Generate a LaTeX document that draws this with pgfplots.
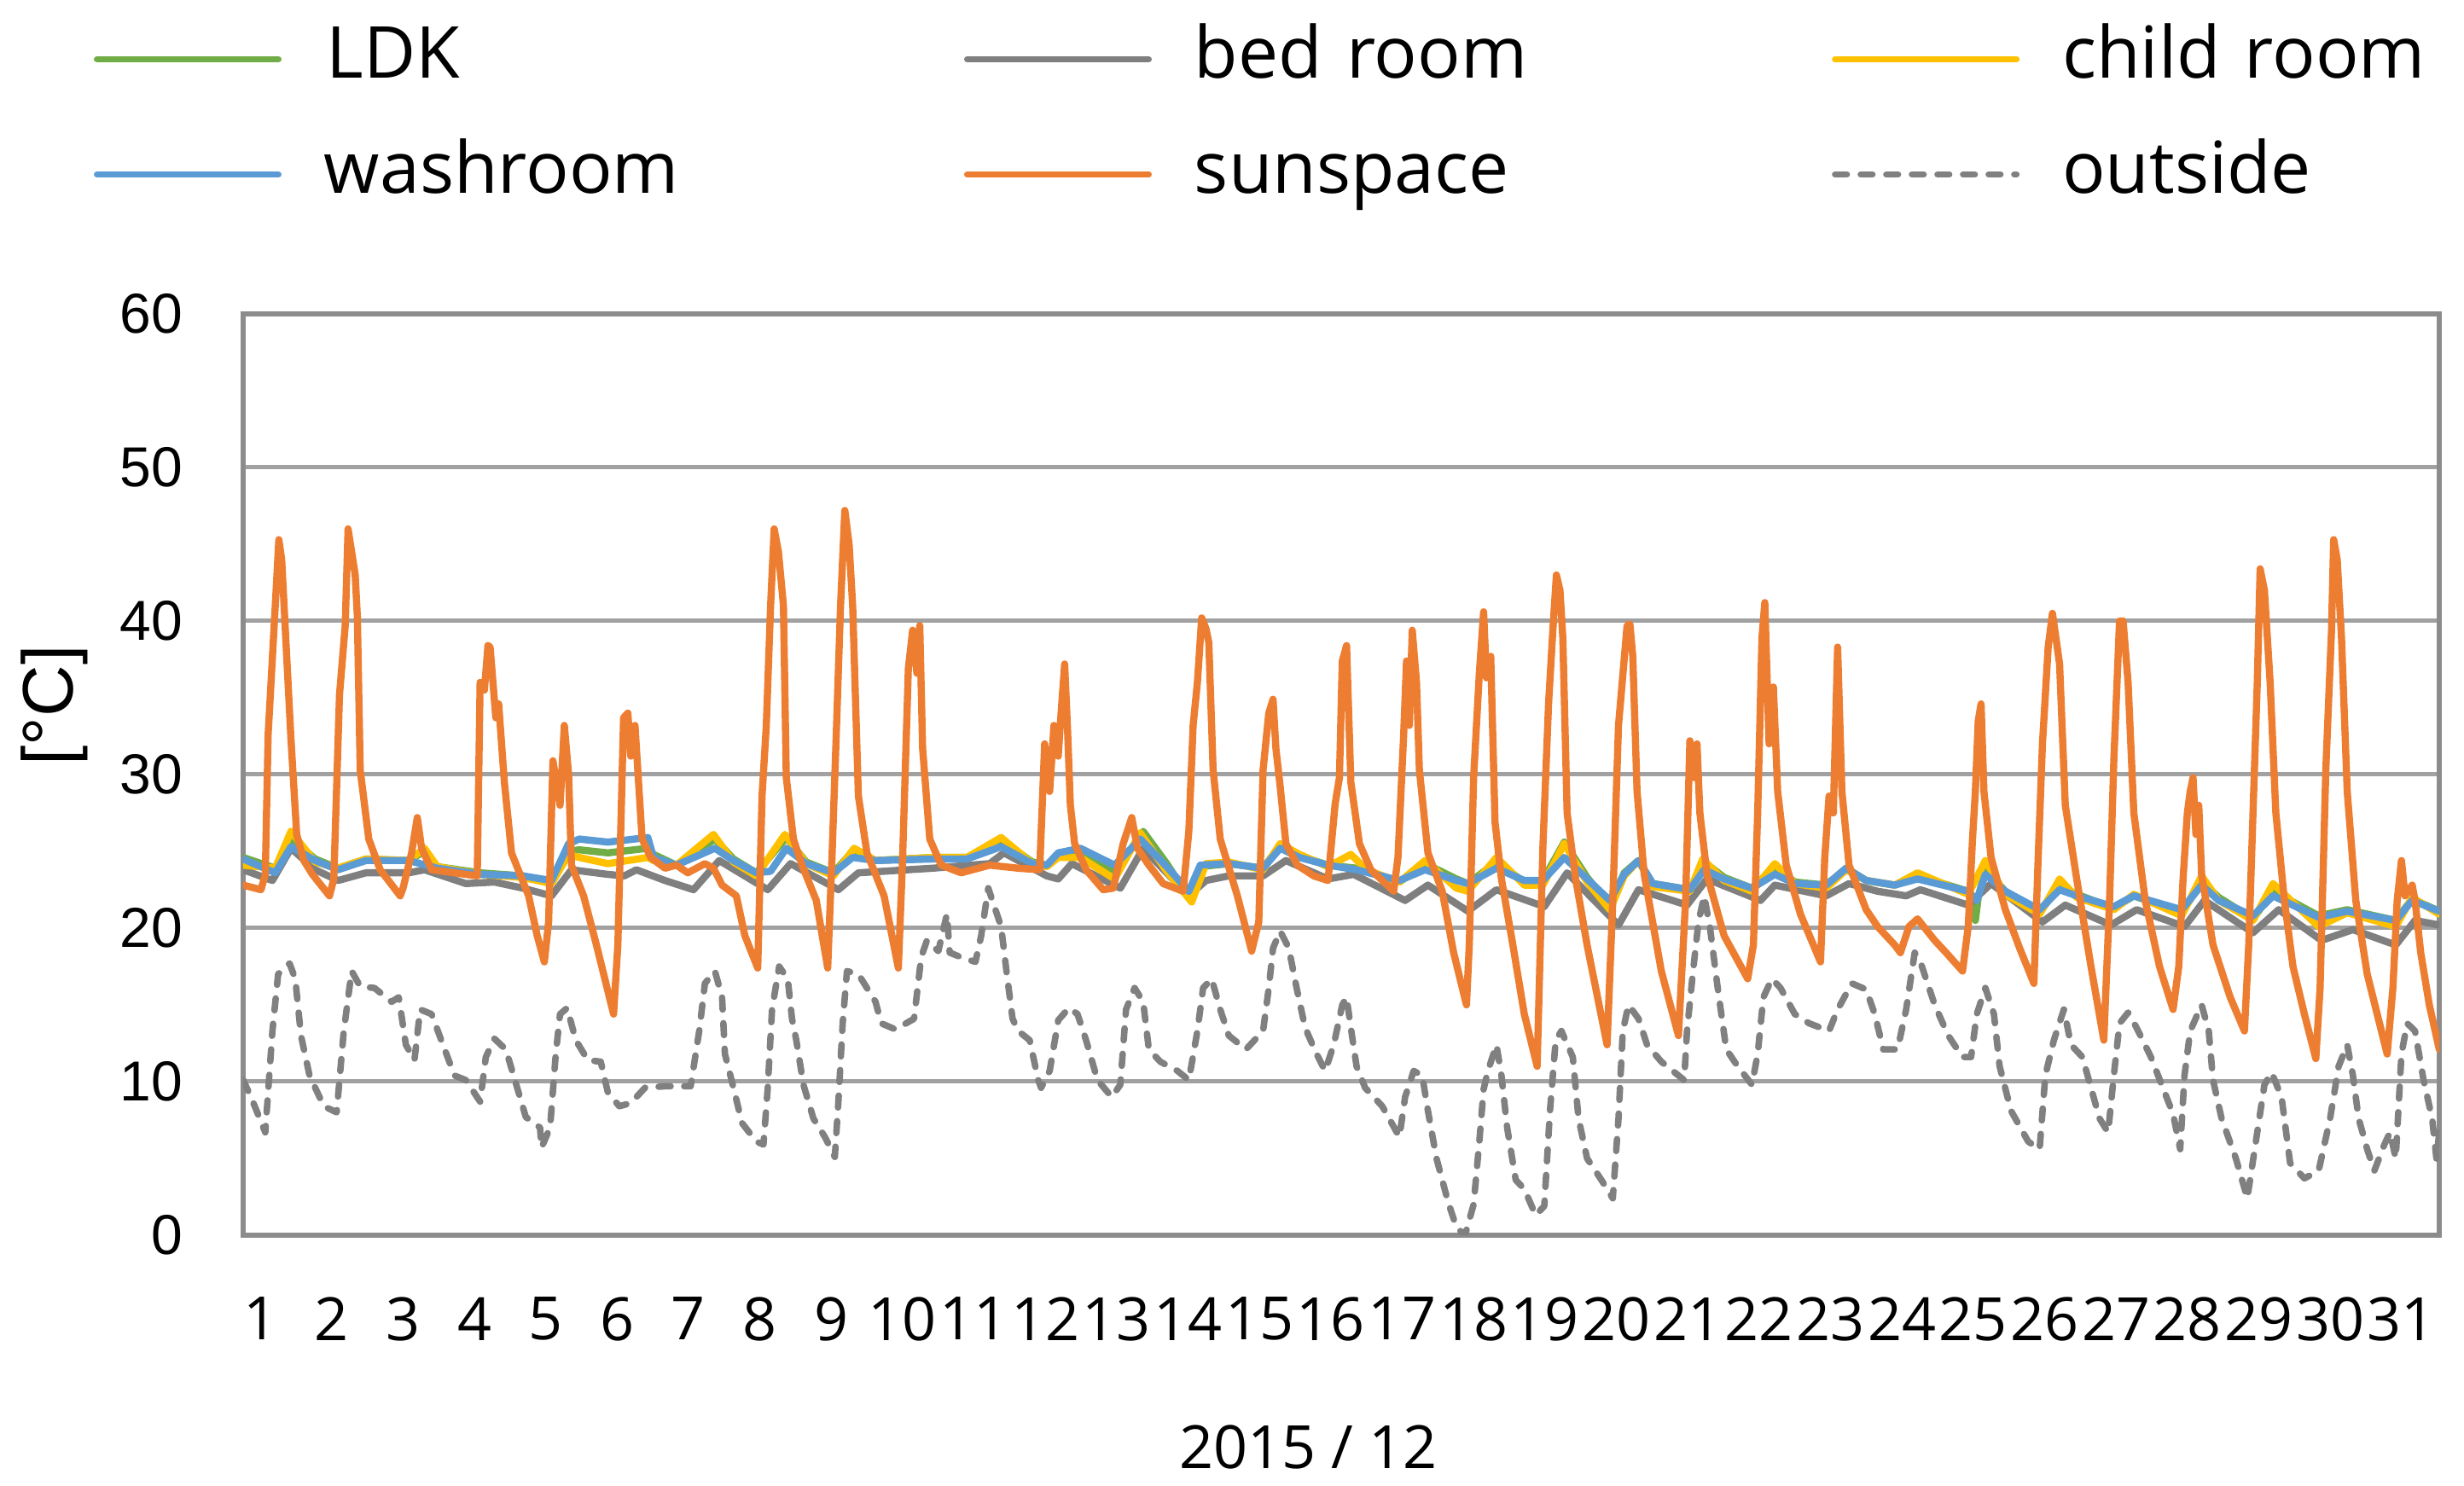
\documentclass[border=0pt]{standalone}
\usepackage{fontspec}
\setmainfont{Open Sans}
\newfontfamily\arialfont{Liberation Sans}
\usepackage{pgfplots}
\pgfplotsset{compat=1.18}
\definecolor{cLDK}{HTML}{70AD47}
\definecolor{cBed}{HTML}{7F7F7F}
\definecolor{cChild}{HTML}{FFC000}
\definecolor{cWash}{HTML}{5B9BD5}
\definecolor{cSun}{HTML}{ED7D31}
\definecolor{cOut}{HTML}{808080}
\begin{document}
\begin{tikzpicture}
\begin{axis}[
  scale only axis, width=643.5pt, height=270pt,
  xmin=0.76, xmax=31.53, ymin=0, ymax=60,
  xtick={1,...,31}, ytick={0,10,...,60},
  major tick length=0pt,
  ymajorgrids, grid style={color=black!37, line width=1.25pt},
  axis line style={color=black!45, line width=1.3pt},
  /pgf/number format/assume math mode=true,
  xticklabel style={font=\fontsize{17.5}{17.5}\selectfont, inner sep=0pt, anchor=north, yshift=-18pt},
  yticklabel style={font=\arialfont\fontsize{16.5}{16.5}\selectfont, inner sep=0pt, anchor=east, xshift=-17.5pt},
  xlabel={2015 / 12},
  xlabel style={font=\fontsize{17.5}{17.5}\selectfont, at={(axis description cs:0.485,0)}, anchor=center, yshift=-62pt},
  ylabel={[°C]},
  ylabel style={font=\arialfont\fontsize{21}{21}\selectfont, at={(axis description cs:-0.0859,0.575)}, anchor=center},
  legend columns=3,
  legend cell align=left,
  legend image code/.code={\draw[#1, line width=1.8pt] (0.9pt,0pt) -- (54.1pt,0pt);},
  legend style={
    at={(axis description cs:0,1)}, anchor=north west, xshift=-43.75pt, yshift=85pt,
    draw=none, fill=none, inner sep=0pt, outer sep=0pt,
    column sep=0pt, row sep=12.95pt,
    font=\fontsize{21}{21}\selectfont,
    nodes={inner sep=0pt, text height=16pt, text depth=4.8pt, text width=186.8pt, align=left},
    /tikz/every odd column/.append style={column sep=12.5pt},
  },
  every axis plot/.append style={line width=2.1pt, line join=round, line cap=round},
]
% LDK
\addplot[cLDK] coordinates {
(0.76,24.6)(1.21,23.9)(1.43,25.8)(1.77,24.5)(2.09,23.9)(2.48,24.5)(3.08,24.4)(3.30,25.0)(3.48,24.0)(4.08,23.6)(4.68,23.4)(5.08,22.9)(5.32,25.0)(5.47,25.1)(5.87,24.9)(6.43,25.2)(6.51,24.8)(6.83,24.1)(7.37,25.8)(7.63,24.5)(7.95,23.6)(8.37,25.9)(8.65,24.3)(9.03,23.6)(9.30,25.0)(9.62,24.4)(10.42,24.6)(10.90,24.6)(11.38,25.7)(11.82,24.3)(12.02,24.1)(12.18,24.8)(12.49,25.0)(12.97,23.6)(13.37,26.3)(13.70,24.2)(14.01,22.0)(14.17,24.0)(14.57,24.2)(15.05,23.9)(15.29,25.4)(15.56,24.7)(15.96,24.1)(16.36,23.9)(16.96,23.0)(17.32,24.2)(17.76,23.2)(17.92,22.9)(18.32,24.3)(18.71,23.0)(18.97,23.1)(19.27,25.6)(19.59,23.3)(19.91,21.5)(20.11,23.6)(20.31,24.4)(20.51,22.9)(21.03,22.5)(21.23,24.3)(21.51,23.3)(21.90,22.6)(22.22,24.0)(22.50,23.0)(22.94,22.8)(23.22,23.9)(23.50,23.1)(23.90,22.8)(24.22,23.4)(24.93,22.4)(25.03,20.5)(25.07,22.0)(25.17,23.8)(25.45,22.4)(25.93,21.0)(26.21,22.8)(26.45,22.2)(26.97,21.3)(27.25,22.1)(27.92,21.0)(28.20,23.0)(28.44,22.0)(28.92,20.6)(29.20,22.4)(29.84,20.8)(30.24,21.2)(30.92,20.5)(31.15,21.9)(31.53,21.1)
};
\addlegendentry[xshift=3.7pt]{LDK}
% bed room
\addplot[cBed] coordinates {
(0.76,23.8)(1.17,23.1)(1.43,25.2)(1.77,23.8)(2.09,23.1)(2.48,23.6)(3.08,23.6)(3.30,23.8)(3.88,22.9)(4.28,23.0)(4.68,22.6)(5.08,22.1)(5.36,23.8)(5.87,23.5)(6.10,23.4)(6.27,23.8)(6.67,23.1)(7.07,22.5)(7.43,24.4)(8.11,22.5)(8.43,24.2)(9.10,22.5)(9.38,23.6)(10.42,23.9)(11.22,24.2)(11.42,24.9)(12.02,23.4)(12.18,23.2)(12.37,24.2)(13.05,22.6)(13.37,25.2)(14.01,22.1)(14.25,23.1)(14.57,23.4)(15.05,23.4)(15.37,24.4)(15.96,23.2)(16.32,23.5)(17.04,21.8)(17.36,22.8)(17.92,21.1)(18.32,22.5)(18.99,21.4)(19.31,23.6)(20.03,20.2)(20.31,22.5)(20.99,21.5)(21.27,23.2)(22.02,21.8)(22.22,22.8)(22.94,22.1)(23.26,22.9)(23.66,22.4)(24.06,22.1)(24.26,22.5)(24.93,21.5)(25.25,22.9)(25.97,20.4)(26.29,21.5)(26.93,20.2)(27.29,21.2)(27.96,20.1)(28.24,21.8)(28.92,19.7)(29.28,21.2)(29.88,19.2)(30.32,19.9)(30.92,18.9)(31.19,20.5)(31.53,20.2)
};
\addlegendentry[xshift=-1.2pt]{bed room}
% child room
\addplot[cChild] coordinates {
(0.76,24.1)(1.21,23.9)(1.43,26.3)(1.77,24.3)(2.09,23.9)(2.48,24.5)(3.08,24.4)(3.30,25.2)(3.48,24.0)(4.08,23.5)(4.68,23.3)(5.08,22.9)(5.32,24.8)(5.47,24.6)(5.87,24.2)(6.43,24.6)(6.51,24.4)(6.83,24.1)(7.35,26.1)(7.63,24.3)(7.95,23.4)(8.35,26.1)(8.65,24.2)(9.03,23.4)(9.32,25.2)(9.62,24.4)(10.42,24.6)(10.90,24.6)(11.38,25.9)(11.82,24.2)(12.02,24.0)(12.18,24.6)(12.49,24.6)(12.97,23.2)(13.33,26.2)(13.70,23.7)(14.05,21.7)(14.25,24.2)(14.57,24.3)(15.05,23.8)(15.29,25.5)(15.56,24.8)(15.96,24.0)(16.28,24.8)(16.50,23.8)(16.96,23.0)(17.32,24.4)(17.76,22.6)(17.92,22.4)(18.32,24.6)(18.71,22.8)(18.97,22.8)(19.27,25.5)(19.59,23.0)(19.91,21.2)(20.11,23.4)(20.31,24.4)(20.51,22.7)(21.03,22.4)(21.21,24.5)(21.51,23.1)(21.90,22.4)(22.22,24.2)(22.50,22.9)(22.94,22.6)(23.22,23.8)(23.50,23.1)(23.90,22.8)(24.22,23.6)(24.93,22.2)(25.17,24.4)(25.45,22.2)(25.93,20.9)(26.21,23.2)(26.45,22.0)(26.97,21.2)(27.25,22.2)(27.92,20.8)(28.20,23.4)(28.44,21.8)(28.92,20.5)(29.20,22.9)(29.84,20.1)(30.24,21.0)(30.92,20.1)(31.15,22.0)(31.53,20.9)
};
\addlegendentry{child room}
% washroom
\addplot[cWash] coordinates {
(0.76,24.5)(1.21,23.6)(1.43,25.3)(1.77,24.4)(2.09,23.8)(2.48,24.4)(3.08,24.4)(3.48,23.9)(4.08,23.5)(4.68,23.4)(5.08,23.1)(5.32,25.5)(5.47,25.8)(5.87,25.6)(6.43,25.9)(6.51,24.6)(6.83,24.1)(7.37,25.2)(7.63,24.4)(7.95,23.6)(8.15,23.7)(8.37,25.2)(8.65,24.2)(9.03,23.6)(9.30,24.6)(9.62,24.4)(10.42,24.5)(10.90,24.5)(11.38,25.3)(11.82,24.2)(12.02,24.1)(12.18,24.9)(12.49,25.2)(12.97,24.1)(13.33,25.8)(13.70,24.0)(14.01,22.4)(14.17,24.1)(14.57,24.2)(15.05,23.9)(15.29,25.2)(15.56,24.6)(15.96,24.1)(16.36,23.8)(16.96,23.1)(17.32,23.8)(17.76,23.1)(17.92,22.9)(18.32,23.9)(18.71,23.1)(18.97,23.1)(19.27,24.6)(19.59,23.2)(19.91,21.8)(20.11,23.5)(20.31,24.4)(20.51,22.9)(21.03,22.5)(21.23,23.8)(21.51,23.2)(21.90,22.6)(22.22,23.5)(22.50,22.9)(22.94,22.8)(23.22,23.9)(23.50,23.1)(23.90,22.8)(24.22,23.2)(24.93,22.4)(25.05,21.8)(25.17,23.5)(25.45,22.4)(25.93,21.2)(26.21,22.5)(26.45,22.1)(26.97,21.4)(27.25,22.1)(27.92,21.2)(28.20,22.8)(28.44,21.8)(28.92,20.8)(29.20,22.1)(29.84,20.7)(30.24,21.1)(30.92,20.5)(31.15,21.8)(31.53,21.1)
};
\addlegendentry[xshift=3pt]{washroom}
% sunspace
\addplot[cSun] coordinates {
(0.76,22.8)(1.01,22.5)(1.07,23.5)(1.11,32.6)(1.21,41.0)(1.26,45.3)(1.30,44.0)(1.43,32.3)(1.51,26.1)(1.61,24.4)(1.73,23.5)(1.97,22.1)(2.03,23.2)(2.11,35.2)(2.19,39.7)(2.23,46.0)(2.33,43.0)(2.36,40.3)(2.40,30.3)(2.52,25.8)(2.68,23.8)(2.96,22.1)(3.00,22.6)(3.12,24.9)(3.20,27.2)(3.26,25.2)(3.40,23.8)(4.04,23.4)(4.08,36.0)(4.14,35.5)(4.19,38.4)(4.22,38.3)(4.30,33.7)(4.34,34.6)(4.42,29.5)(4.52,24.9)(4.76,22.1)(4.88,19.5)(4.98,17.8)(5.04,20.4)(5.10,30.9)(5.16,29.2)(5.20,28.0)(5.26,33.2)(5.32,30.0)(5.36,24.1)(5.53,22.1)(5.71,18.9)(5.95,14.4)(6.01,18.9)(6.09,33.7)(6.15,34.0)(6.19,31.2)(6.25,33.2)(6.35,25.8)(6.47,24.6)(6.67,23.9)(6.83,24.1)(6.99,23.6)(7.23,24.2)(7.35,23.9)(7.47,22.8)(7.67,22.1)(7.79,19.5)(7.97,17.4)(8.03,28.6)(8.09,33.2)(8.15,41.0)(8.20,46.0)(8.26,44.5)(8.33,41.0)(8.37,29.8)(8.47,25.8)(8.59,24.1)(8.79,21.8)(8.95,17.4)(9.01,24.6)(9.07,32.6)(9.13,41.0)(9.19,47.2)(9.25,45.0)(9.30,41.0)(9.38,28.6)(9.50,24.9)(9.74,22.1)(9.94,17.4)(10.00,24.6)(10.08,36.9)(10.14,39.4)(10.20,36.6)(10.24,39.7)(10.28,31.7)(10.38,25.8)(10.54,24.1)(10.82,23.6)(11.22,24.1)(11.62,23.9)(11.92,23.8)(11.99,32.0)(12.06,28.9)(12.12,33.2)(12.18,31.2)(12.22,34.0)(12.27,37.2)(12.31,33.0)(12.35,28.0)(12.41,25.5)(12.57,23.8)(12.81,22.5)(12.95,22.6)(13.09,25.5)(13.21,27.2)(13.29,25.2)(13.45,24.1)(13.65,22.9)(13.93,22.4)(14.01,26.3)(14.07,33.2)(14.13,36.0)(14.19,40.2)(14.25,39.5)(14.29,38.6)(14.35,30.3)(14.45,25.8)(14.69,22.1)(14.89,18.5)(14.99,20.4)(15.05,30.3)(15.13,34.0)(15.19,34.9)(15.23,31.7)(15.29,29.2)(15.37,25.5)(15.53,24.1)(15.76,23.4)(15.96,23.1)(16.06,28.1)(16.12,29.8)(16.16,37.4)(16.22,38.4)(16.28,29.5)(16.40,25.5)(16.56,23.8)(16.88,22.4)(16.94,24.6)(17.02,32.6)(17.06,37.4)(17.10,33.2)(17.14,39.4)(17.20,36.0)(17.24,30.3)(17.36,24.9)(17.56,22.4)(17.72,18.4)(17.90,15.0)(17.94,19.0)(18.00,29.8)(18.08,36.6)(18.14,40.6)(18.18,36.3)(18.24,37.7)(18.30,26.9)(18.39,23.2)(18.55,18.9)(18.71,14.4)(18.89,11.0)(18.97,25.2)(19.05,34.6)(19.11,39.4)(19.16,43.0)(19.21,42.0)(19.25,38.9)(19.31,27.5)(19.43,23.2)(19.59,18.9)(19.87,12.4)(19.95,21.8)(20.03,33.2)(20.15,39.7)(20.19,39.8)(20.23,37.7)(20.29,28.9)(20.39,23.5)(20.63,17.2)(20.87,13.0)(20.97,21.8)(21.03,32.2)(21.09,29.8)(21.13,32.0)(21.17,27.5)(21.27,23.5)(21.51,19.5)(21.84,16.7)(21.92,18.9)(21.98,27.5)(22.04,38.9)(22.08,41.2)(22.14,32.0)(22.20,35.7)(22.26,28.9)(22.38,24.1)(22.58,20.9)(22.86,17.8)(22.92,24.6)(22.98,28.6)(23.04,27.5)(23.10,38.3)(23.16,28.9)(23.26,24.1)(23.50,21.2)(23.66,20.1)(23.90,18.9)(23.98,18.4)(24.10,20.1)(24.22,20.6)(24.46,19.2)(24.62,18.4)(24.85,17.2)(24.93,20.1)(24.99,25.8)(25.03,28.9)(25.07,33.5)(25.11,34.6)(25.15,28.9)(25.25,24.6)(25.45,21.2)(25.65,18.7)(25.85,16.4)(25.91,24.6)(25.97,32.0)(26.05,38.3)(26.11,40.5)(26.21,37.2)(26.29,28.0)(26.45,23.2)(26.65,17.5)(26.83,12.7)(26.91,21.8)(26.97,30.9)(27.05,40.0)(27.10,40.0)(27.17,36.0)(27.25,27.5)(27.41,21.8)(27.61,17.5)(27.80,14.7)(27.88,17.5)(27.94,23.2)(28.00,27.5)(28.04,28.9)(28.08,29.8)(28.12,26.1)(28.16,28.0)(28.20,23.5)(28.36,18.9)(28.60,15.5)(28.80,13.3)(28.86,18.9)(28.92,27.5)(28.98,36.0)(29.02,43.4)(29.08,42.0)(29.16,36.0)(29.24,27.5)(29.36,21.8)(29.48,17.5)(29.64,14.4)(29.80,11.5)(29.86,16.1)(29.94,30.3)(30.02,39.4)(30.05,45.3)(30.10,44.0)(30.16,38.9)(30.24,28.9)(30.36,21.8)(30.52,17.0)(30.80,11.8)(30.88,16.1)(30.94,21.8)(31.00,24.4)(31.05,22.1)(31.15,22.8)(31.19,21.8)(31.27,18.4)(31.39,15.0)(31.53,12.1)
};
\addlegendentry[xshift=-1.2pt]{sunspace}
% outside
\addplot[cOut, line width=1.9pt, dash pattern=on 3.5pt off 4pt] coordinates {
(0.76,10.1)(0.87,9.0)(1.07,6.7)(1.17,13.3)(1.25,17.0)(1.41,17.7)(1.49,16.7)(1.57,13.0)(1.69,10.4)(1.89,8.4)(2.07,8.0)(2.17,13.3)(2.28,17.2)(2.40,16.2)(2.60,16.1)(2.84,15.2)(2.94,15.5)(3.04,12.4)(3.16,11.4)(3.24,14.7)(3.40,14.4)(3.56,12.4)(3.72,10.4)(3.88,10.1)(4.08,8.7)(4.16,11.6)(4.28,12.8)(4.44,12.1)(4.60,9.6)(4.72,7.7)(4.92,7.0)(4.94,5.7)(5.06,7.0)(5.14,11.8)(5.20,14.4)(5.30,14.8)(5.42,12.7)(5.59,11.4)(5.77,11.3)(5.87,9.3)(6.03,8.4)(6.19,8.6)(6.39,9.6)(6.67,9.7)(7.03,9.7)(7.15,13.3)(7.23,16.4)(7.37,17.2)(7.47,15.5)(7.51,11.8)(7.63,9.6)(7.75,7.3)(7.95,6.1)(8.05,5.9)(8.11,9.6)(8.17,14.7)(8.27,17.5)(8.39,16.7)(8.45,14.1)(8.51,12.7)(8.61,9.8)(8.75,7.6)(8.91,6.4)(9.05,5.1)(9.10,8.7)(9.16,13.8)(9.22,17.2)(9.38,17.0)(9.62,15.2)(9.70,13.8)(9.90,13.4)(10.16,14.1)(10.26,18.1)(10.34,19.2)(10.50,18.5)(10.62,20.9)(10.66,18.4)(10.82,18.1)(11.02,17.8)(11.10,19.5)(11.20,22.6)(11.30,21.2)(11.38,20.1)(11.46,17.0)(11.54,14.1)(11.62,13.3)(11.78,12.7)(11.90,10.1)(11.94,9.6)(12.06,10.7)(12.18,14.0)(12.33,14.8)(12.45,14.4)(12.57,12.7)(12.73,10.1)(12.93,9.0)(13.05,9.8)(13.13,14.7)(13.25,16.1)(13.37,15.2)(13.45,12.1)(13.61,11.3)(13.85,10.7)(14.01,10.1)(14.13,13.3)(14.21,16.1)(14.33,16.7)(14.45,14.7)(14.57,13.0)(14.81,12.1)(15.05,13.3)(15.13,16.1)(15.19,18.7)(15.29,19.8)(15.41,18.7)(15.52,16.1)(15.64,13.5)(15.80,11.8)(15.92,10.7)(16.04,12.4)(16.16,15.0)(16.22,15.5)(16.28,13.5)(16.36,11.0)(16.48,9.6)(16.72,8.4)(16.96,6.4)(17.04,9.0)(17.16,10.7)(17.28,10.4)(17.36,8.1)(17.48,5.0)(17.64,2.2)(17.76,0.5)(17.88,0.0)(18.00,2.0)(18.08,6.1)(18.14,9.5)(18.20,10.7)(18.32,12.4)(18.39,10.4)(18.47,7.0)(18.59,3.6)(18.71,3.0)(18.87,1.3)(18.99,1.9)(19.07,8.1)(19.15,12.7)(19.23,13.3)(19.39,11.6)(19.47,7.6)(19.59,5.0)(19.79,3.6)(19.95,2.4)(20.03,7.6)(20.09,13.3)(20.17,15.0)(20.31,14.1)(20.43,12.4)(20.63,11.3)(20.95,10.1)(20.99,13.3)(21.07,17.0)(21.15,20.4)(21.23,22.1)(21.31,20.1)(21.42,16.1)(21.54,12.1)(21.70,11.0)(21.90,9.8)(21.98,11.8)(22.06,15.5)(22.18,16.7)(22.30,16.1)(22.50,14.4)(22.70,13.8)(22.98,13.3)(23.10,14.7)(23.30,16.4)(23.50,16.0)(23.62,14.4)(23.74,12.1)(23.94,12.1)(24.06,14.7)(24.18,18.4)(24.26,17.8)(24.46,15.0)(24.65,13.0)(24.85,11.6)(24.97,11.6)(25.05,14.4)(25.17,16.1)(25.29,14.4)(25.37,11.0)(25.53,8.1)(25.77,6.1)(25.93,5.6)(26.01,10.4)(26.13,12.7)(26.27,14.7)(26.37,12.4)(26.53,11.6)(26.65,9.6)(26.77,7.6)(26.89,6.7)(26.97,10.4)(27.05,13.8)(27.17,14.5)(27.29,13.5)(27.49,11.6)(27.64,9.8)(27.80,7.9)(27.90,5.6)(27.96,10.4)(28.04,13.3)(28.20,15.0)(28.30,13.3)(28.36,10.1)(28.48,7.6)(28.68,5.0)(28.84,2.4)(28.96,6.1)(29.08,9.8)(29.18,10.6)(29.32,9.0)(29.44,4.7)(29.64,3.7)(29.84,4.2)(30.00,7.6)(30.12,11.0)(30.24,12.4)(30.32,10.4)(30.40,7.6)(30.52,5.6)(30.62,4.2)(30.76,5.9)(30.84,6.7)(30.92,5.0)(31.00,11.8)(31.08,13.8)(31.19,13.3)(31.31,10.1)(31.43,7.6)(31.49,5.0)(31.53,6.7)
};
\addlegendentry{outside}
\end{axis}
\pgfresetboundingbox
\path[use as bounding box] ([xshift=-71.25pt,yshift=-73.5pt]current axis.south west) rectangle ([xshift=7.25pt,yshift=92pt]current axis.north east);
\end{tikzpicture}
\end{document}
